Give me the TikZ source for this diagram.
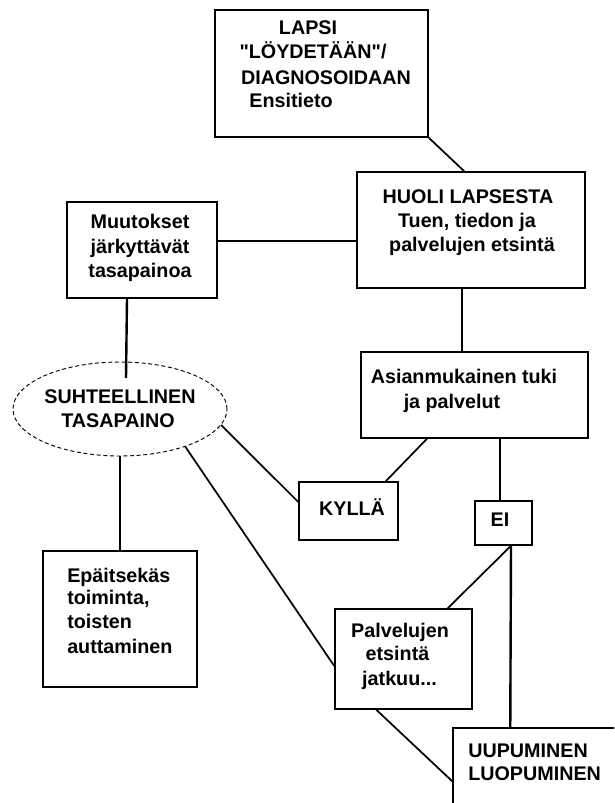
\documentclass[tikz,border=0pt]{standalone}
\usepackage{fontspec}
\setmainfont{Liberation Sans}
\newfontfamily\lsfont{Liberation Sans}
\usetikzlibrary{calc,shapes.geometric}
\tikzset{
  box/.style={draw,line width=1.1pt,rectangle,inner sep=0pt},
  conn/.style={line width=1.8pt},
  diag/.style={line width=1.3pt},
  txt/.style={inner sep=0pt,anchor=base,font=\lsfont\fontsize{14.8}{17}\selectfont\bfseries},
  txtl/.style={txt,anchor=base west},
}
\begin{document}
\begin{tikzpicture}[x=0.75pt,y=-0.75pt]
\useasboundingbox (0,0) rectangle (614,803);
\clip (0,0) rectangle (614,803);
% boxes
\node[box,minimum width=159.75pt,minimum height=95.25pt] (top) at (321.5,73.5) {};
\node[box,minimum width=171pt,minimum height=87pt] (hu) at (471,230) {};
\node[box,minimum width=112.5pt,minimum height=72pt] (mu) at (142,250) {};
\node[draw,densely dashed,line width=0.7pt,ellipse,inner sep=0pt,minimum width=160.5pt,minimum height=70.5pt] (ell) at (120,409) {};
\node[box,minimum width=170.25pt,minimum height=64.5pt] (asi) at (474.5,395) {};
\node[box,minimum width=74.25pt,minimum height=43.5pt] (kyl) at (348.5,511) {};
\node[box,minimum width=42.75pt,minimum height=33pt] (ei) at (503.5,523) {};
\node[box,minimum width=115.5pt,minimum height=102pt] (epa) at (120,619) {};
\node[box,minimum width=102.75pt,minimum height=75pt] (pal) at (403.5,659) {};
\node[box,minimum width=140.25pt,minimum height=76.5pt] (uup) at (546.5,779) {};
% texts
\node[txt] (t1a) at (308,34) {LAPSI};
\node[txt] (t1b) at (313,58) {"LÖYDETÄÄN"/};
\node[txt] (t1c) at (326,84) {DIAGNOSOIDAAN};
\node[txt] (t1d) at (291,107) {Ensitieto};
\node[txt] (t2a) at (468,203) {HUOLI LAPSESTA};
\node[txt] (t2b) at (467,227) {Tuen, tiedon ja};
\node[txt] (t2c) at (472,251) {palvelujen etsintä};
\node[txt] (t3a) at (140,228) {Muutokset};
\node[txt] (t3b) at (140,253) {järkyttävät};
\node[txt] (t3c) at (140,277) {tasapainoa};
\node[txt] (t4a) at (120,403) {SUHTEELLINEN};
\node[txt] (t4b) at (118,427) {TASAPAINO};
\node[txt] (t5a) at (464,383) {Asianmukainen tuki};
\node[txt] (t5b) at (452,408) {ja palvelut};
\node[txt] (t6) at (352,515) {KYLLÄ};
\node[txt] (t7) at (500,526) {EI};
\node[txtl] (t8a) at (67,582) {Epäitsekäs};
\node[txtl] (t8b) at (67,604) {toiminta,};
\node[txtl] (t8c) at (67,628) {toisten};
\node[txtl] (t8d) at (67,653) {auttaminen};
\node[txt] (t9a) at (400,637) {Palvelujen};
\node[txt] (t9b) at (397.5,660) {etsintä};
\node[txt] (t9c) at (399.5,685) {jatkuu...};
\node[txtl] (t10a) at (468,757) {UUPUMINEN};
\node[txtl] (t10b) at (468,780) {LUOPUMINEN};
% connectors
\coordinate (mend) at (126,378);
\coordinate (eib) at ($(ei.south)+(7.5,0)$);
\draw[diag] (top.south east) -- ($(hu.north west)+(108,0)$);
\draw[conn] ($(hu.west)+(0,11)$) -- ($(mu.east)+(0,-9)$);
\draw[conn] ($(hu.south)+(-9,0)$) -- ($(asi.north)+(-12.5,0)$);
\draw[conn] ($(mu.south)+(-15,0)$) -- (mend);
\draw[conn] (ell.south) -- (epa.north);
\draw[diag] (ell.-9.6) -- ($(kyl.west)+(0,-9)$);
\draw[diag] (ell.-30.7) -- ($(pal.west)+(0,7)$);
\draw[diag] ($(asi.south)+(-47.5,0)$) -- ($(kyl.north east)+(-13,0)$);
\draw[conn] ($(asi.south)+(25.5,0)$) -- ($(ei.north)+(-3.5,0)$);
\draw[conn] (eib) -- ($(uup.north west)+(58,0)$);
\draw[diag] (eib) -- ($(pal.north east)+(-25,0)$);
\draw[diag] ($(pal.south west)+(42,0)$) -- ($(uup.north west)+(0,54)$);
\end{tikzpicture}
\end{document}
